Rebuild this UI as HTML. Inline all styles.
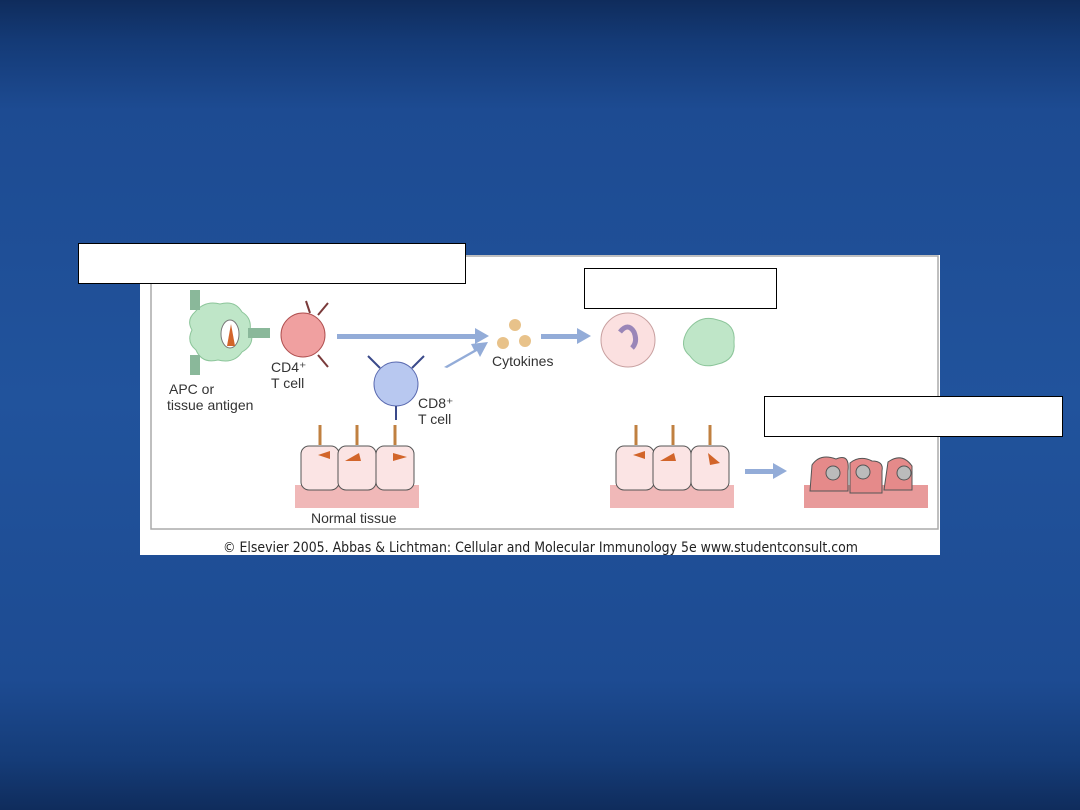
<!DOCTYPE html>
<html><head><meta charset="utf-8"><style>
body{margin:0;width:1080px;height:810px;overflow:hidden;background:#1d4a90;}
#bg{position:absolute;left:0;top:0;width:1080px;height:810px;
background:linear-gradient(180deg,#0f2c5c 0px,#143a76 40px,#1d4b92 110px,#21539c 400px,#1d4b92 680px,#153c78 760px,#0f2c5c 810px);}
.box{position:absolute;background:#fff;border:1.5px solid #000;box-sizing:border-box;}
svg text{font-family:"Liberation Sans",sans-serif;}
</style></head><body>
<div id="bg"></div>
<svg width="1080" height="810" style="position:absolute;left:0;top:0">
<rect x="140" y="255" width="800" height="300" fill="#fff"/>
<rect x="151" y="256" width="787" height="273" fill="none" stroke="#aaa" stroke-width="1.5"/>
<text x="223" y="552" font-size="14" fill="#222" textLength="635" lengthAdjust="spacingAndGlyphs" font-weight="bold" style="font-family:'DejaVu Sans',sans-serif;font-weight:normal">© Elsevier 2005. Abbas &amp; Lichtman: Cellular and Molecular Immunology 5e www.studentconsult.com</text>
<!-- APC -->
<path d="M195 312 q10-12 25-8 q15-4 22 8 q10 6 8 18 q6 14-8 22 q-8 12-24 8 q-16 4-22-10 q-10-8-4-20 q-6-10 3-18z" fill="#bfe6c8" stroke="#8cc59a"/>
<ellipse cx="230" cy="334" rx="9" ry="14" fill="#fff" stroke="#777"/>
<path d="M227 346 l4-22 l4 22z" fill="#d2652a"/>
<rect x="190" y="290" width="10" height="20" fill="#8ab89a"/><rect x="190" y="355" width="10" height="20" fill="#8ab89a"/>
<rect x="248" y="328" width="22" height="10" fill="#8ab89a"/>
<text x="169" y="394" font-size="14" fill="#333">APC or</text>
<text x="167" y="410" font-size="14" fill="#333">tissue antigen</text>
<!-- CD4 -->
<circle cx="303" cy="335" r="22" fill="#f0a0a0" stroke="#b05050"/>
<path d="M318 315 l10-12 M318 355 l10 12 M310 313 l-4-12" stroke="#7a3a3a" stroke-width="2"/>
<text x="271" y="372" font-size="14" fill="#333">CD4⁺</text>
<text x="271" y="388" font-size="14" fill="#333">T cell</text>
<!-- arrows -->
<g fill="#93acd8"><rect x="337" y="334" width="140" height="5"/><path d="M475 328 l14 8 l-14 8z"/>
<path d="M444 367 l30-17 l-3-6 l17-2 l-8 15 l-3-6 l-30 17z"/>
<rect x="541" y="334" width="38" height="5"/><path d="M577 328 l14 8 l-14 8z"/>
<rect x="745" y="469" width="30" height="5"/><path d="M773 463 l14 8 l-14 8z"/></g>
<circle cx="515" cy="325" r="6" fill="#e8c28a"/><circle cx="503" cy="343" r="6" fill="#e8c28a"/><circle cx="525" cy="341" r="6" fill="#e8c28a"/>
<text x="492" y="366" font-size="14" fill="#333">Cytokines</text>
<!-- CD8 -->
<circle cx="396" cy="384" r="22" fill="#b8c8f0" stroke="#5a6ab0"/>
<path d="M380 368 l-12-12 M412 368 l12-12 M396 406 v14" stroke="#3a4a8a" stroke-width="2"/>
<text x="418" y="408" font-size="14" fill="#333">CD8⁺</text>
<text x="418" y="424" font-size="14" fill="#333">T cell</text>
<!-- normal tissue -->
<rect x="295" y="485" width="124" height="23" fill="#f0b8b8"/>
<g fill="#fbe4e4" stroke="#555"><rect x="301" y="446" width="38" height="44" rx="8"/><rect x="338" y="446" width="38" height="44" rx="8"/><rect x="376" y="446" width="38" height="44" rx="8"/></g>
<g fill="#d2652a"><path d="M318 455 l12 4 l0-8z"/><path d="M345 461 l14-8 l2 8z"/><path d="M393 453 l14 4 l-14 4z"/></g>
<g stroke="#c08040" stroke-width="3"><path d="M320 445 v-20 M357 445 v-20 M395 445 v-20"/></g>
<text x="311" y="523" font-size="14" fill="#333">Normal tissue</text>
<!-- neutrophil, macrophage -->
<circle cx="628" cy="340" r="27" fill="#fbe0e0" stroke="#c8a0a0"/>
<path d="M620 332 q8-10 14 0 q4 10-2 16" stroke="#9a86b8" stroke-width="5" fill="none"/>
<path d="M688 330 q12-16 30-10 q18 4 16 22 q2 18-16 22 q-18 6-28-8 q-12-10-2-26z" fill="#bfe6c8" stroke="#8cc59a"/>
<!-- right tissue -->
<rect x="610" y="485" width="124" height="23" fill="#f0b8b8"/>
<g fill="#fbe4e4" stroke="#555"><rect x="616" y="446" width="38" height="44" rx="8"/><rect x="653" y="446" width="38" height="44" rx="8"/><rect x="691" y="446" width="38" height="44" rx="8"/></g>
<g fill="#d2652a"><path d="M633 455 l12 4 l0-8z"/><path d="M660 461 l14-8 l2 8z"/><path d="M708 453 l12 10 l-10 2z"/></g>
<g stroke="#c08040" stroke-width="3"><path d="M636 445 v-20 M673 445 v-20 M710 445 v-20"/></g>
<rect x="804" y="485" width="124" height="23" fill="#e89a9a"/>
<g fill="#e58a8a" stroke="#555"><path d="M812 465 q8-12 24-6 q14-6 12 12 v20 h-38z"/><path d="M850 463 q10-8 22-2 q12 0 10 10 v22 h-32z"/><path d="M888 462 q14-10 24 4 v24 h-28z"/></g>
<g fill="#bbb" stroke="#555"><circle cx="833" cy="473" r="7"/><circle cx="863" cy="472" r="7"/><circle cx="904" cy="473" r="7"/></g>
</svg>
<div class="box" style="left:78px;top:243px;width:388px;height:41px"></div>
<div class="box" style="left:584px;top:268px;width:193px;height:41px"></div>
<div class="box" style="left:764px;top:396px;width:299px;height:41px"></div>
</body></html>
